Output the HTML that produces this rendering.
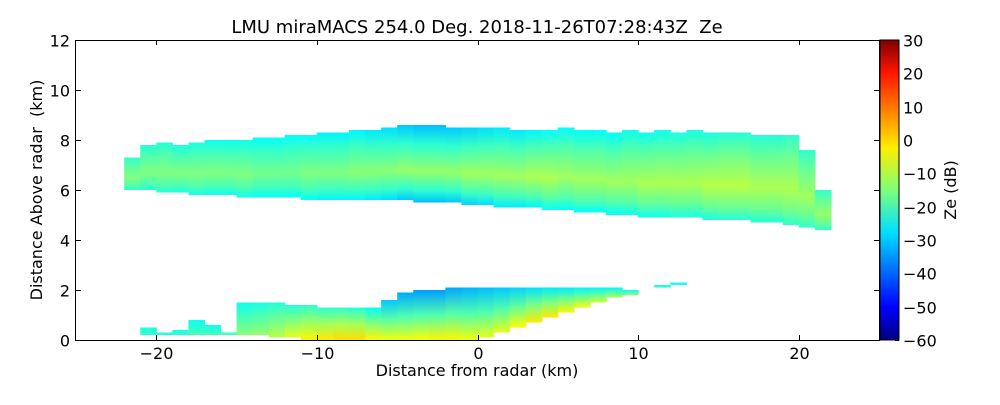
<!DOCTYPE html>
<html><head><meta charset="utf-8"><style>
body{margin:0;background:#fff;width:1000px;height:400px;overflow:hidden;font-family:"Liberation Sans","DejaVu Sans",sans-serif}
svg text{font-family:"DejaVu Sans","Liberation Sans",sans-serif;white-space:pre}
</style></head><body>
<svg id="chart" width="1000" height="400" viewBox="0 0 1000 400" xmlns="http://www.w3.org/2000/svg">
<defs>
<linearGradient id="cbgrad" x1="0" y1="1" x2="0" y2="0">
<stop offset="0" stop-color="#000080"/><stop offset="0.11" stop-color="#0000ff"/><stop offset="0.36" stop-color="#00e0ff"/><stop offset="0.5" stop-color="#7dff7a"/><stop offset="0.64" stop-color="#ffee00"/><stop offset="0.89" stop-color="#ff1500"/><stop offset="1" stop-color="#800000"/>
</linearGradient>
<clipPath id="plotclip"><rect x="76" y="40" width="803" height="300"/></clipPath>
</defs>
<text x="477" y="33" font-size="18" text-anchor="middle">LMU miraMACS 254.0 Deg. 2018-11-26T07:28:43Z  Ze</text>
<g id="marks" clip-path="url(#plotclip)"></g>
<rect x="75.5" y="40.5" width="804" height="300" fill="none" stroke="#000" stroke-width="1"/>
<g id="axes"></g>
<rect x="880" y="40" width="19" height="300" fill="url(#cbgrad)" stroke="#000" stroke-width="1"/>
<text x="477" y="376" font-size="16" text-anchor="middle">Distance from radar (km)</text>
<text transform="translate(42,190) rotate(-90)" font-size="16" text-anchor="middle">Distance Above radar  (km)</text>
<text transform="translate(956,190) rotate(-90)" font-size="16" text-anchor="middle">Ze (dB)</text>
</svg>
<script>
const xTicks=[-20,-10,0,10,20];
const yTicks=[0,2,4,6,8,10,12];
const cbTicks=[-60,-50,-40,-30,-20,-10,0,10,20,30];
// upper cloud layer columns (km)
const upX=[-21.5,-20.5,-19.5,-18.5,-17.5,-16.5,-15.5,-14.5,-13.5,-12.5,-11.5,-10.5,-9.5,-8.5,-7.5,-6.5,-5.5,-4.5,-3.5,-2.5,-1.5,-0.5,0.5,1.5,2.5,3.5,4.5,5.5,6.5,7.5,8.5,9.5,10.5,11.5,12.5,13.5,14.5,15.5,16.5,17.5,18.5,19.5,20.5,21.5];
const upTop=[7.3,7.8,7.9,7.8,7.9,8.0,8.0,8.0,8.1,8.1,8.2,8.2,8.3,8.3,8.4,8.4,8.5,8.6,8.6,8.6,8.5,8.5,8.5,8.5,8.4,8.4,8.4,8.5,8.4,8.4,8.3,8.4,8.3,8.4,8.3,8.4,8.3,8.3,8.3,8.2,8.2,8.2,7.6,6.0];
const upBot=[6.0,6.0,5.9,5.9,5.8,5.8,5.8,5.7,5.7,5.7,5.7,5.6,5.6,5.6,5.6,5.6,5.6,5.6,5.5,5.5,5.5,5.4,5.4,5.3,5.3,5.3,5.2,5.2,5.1,5.1,5.0,5.0,4.9,4.9,4.9,4.9,4.8,4.8,4.8,4.7,4.7,4.6,4.5,4.4];
const upCore=[-15,-15,-15,-15,-15,-15,-15,-15,-16,-16,-16,-15,-15,-15,-14,-14,-14,-13,-13,-13,-13,-12,-12,-12,-12,-11,-11,-12,-12,-12,-12,-12,-11,-11,-11,-11,-10,-10,-10,-11,-11,-11,-12,-13];
const upEdge=[-22,-23,-23,-24,-24,-25,-25,-25,-26,-26,-26,-26,-27,-27,-27,-28,-29,-31,-32,-32,-31,-30,-29,-28,-28,-27,-26,-26,-26,-26,-26,-25,-25,-25,-24,-24,-24,-23,-23,-23,-23,-22,-22,-22];
// lower layer columns
const loX=[-20.5,-19.5,-18.5,-17.5,-16.5,-15.5,-14.5,-13.5,-12.5,-11.5,-10.5,-9.5,-8.5,-7.5,-6.5,-5.5,-4.5,-3.5,-2.5,-1.5,-0.5,0.5,1.5,2.5,3.5,4.5,5.5,6.5,7.5,8.5,9.5,10.5,11.5,12.5];
const loTop=[0.5,0.3,0.4,0.8,0.6,0.3,1.5,1.5,1.5,1.4,1.4,1.3,1.3,1.3,1.3,1.6,1.9,2.0,2.0,2.1,2.1,2.1,2.1,2.1,2.1,2.1,2.1,2.1,2.1,2.1,2.0,2.0,2.2,2.3];
const loBot=[0.2,0.2,0.2,0.2,0.2,0.2,0.2,0.2,0.1,0.1,0.0,0.0,0.0,0.0,0.0,0.0,0.0,0.0,0.0,0.0,0.0,0.1,0.3,0.5,0.7,0.9,1.1,1.3,1.5,1.7,1.8,2.0,2.1,2.2];
const loBase=[-22,-22,-22,-20,-20,-18,-14,-13,-10,-6,-3,-2,-1,-1,-3,-5,-5,-4,-3,-3,-5,-6,-6,-4,-2,-2,-3,-5,-8,-11,-14,-18,-22,-24];
const loTopVal=[-24,-24,-24,-25,-25,-24,-25,-24,-23,-23,-22,-22,-22,-23,-26,-31,-34,-35,-35,-34,-33,-32,-31,-30,-29,-28,-28,-27,-27,-27,-26,-26,-25,-24];

const X0=76,X1=879,Y0=340,Y1=40;
const sx=v=>X0+(v+25)/50*(X1-X0);
const sy=v=>Y0-(v/12)*(Y0-Y1);
const cbY=v=>340-(v+60)/90*300;
const NS='http://www.w3.org/2000/svg';
function jet(v){let t=(v+60)/90;t=Math.max(0,Math.min(1,t));
 const c=x=>Math.round(255*Math.max(0,Math.min(1,1.5-Math.abs(4*t-x))));
 return `rgb(${c(3)},${c(2)},${c(1)})`;}
const svg=document.getElementById('chart');
const defs=svg.querySelector('defs');
const marks=document.getElementById('marks');
const axes=document.getElementById('axes');
let gid=0;
function column(cx,top,bot,stops,name){
 const id='g'+(gid++);
 const lg=document.createElementNS(NS,'linearGradient');
 lg.setAttribute('id',id);lg.setAttribute('x1','0');lg.setAttribute('y1','0');lg.setAttribute('x2','0');lg.setAttribute('y2','1');
 stops.forEach(s=>{const st=document.createElementNS(NS,'stop');st.setAttribute('offset',s[0]);st.setAttribute('stop-color',jet(s[1]));lg.appendChild(st);});
 defs.appendChild(lg);
 const r=document.createElementNS(NS,'rect');
 
 
 const xa=sx(cx-0.5),xb=sx(cx+0.5);
 r.setAttribute('x',xa);r.setAttribute('width',xb-xa+0.6);
 r.setAttribute('y',sy(top));r.setAttribute('height',Math.max(0,sy(bot)-sy(top)));
 r.setAttribute('fill','url(#'+id+')');
 marks.appendChild(r);
}
upX.forEach((x,i)=>column(x,upTop[i],upBot[i],[[0,upEdge[i]],[0.25,(upEdge[i]+upCore[i])/2],[0.6,upCore[i]],[0.85,(upEdge[i]+upCore[i])/2],[1,upEdge[i]]],'upper-cloud-column'));
loX.forEach((x,i)=>column(x,loTop[i],loBot[i],[[0,loTopVal[i]],[0.5,(loTopVal[i]+loBase[i])/2],[1,loBase[i]]],'lower-cloud-column'));
function line(x1,y1,x2,y2,name){const l=document.createElementNS(NS,'line');
 
 
 l.setAttribute('x1',x1);l.setAttribute('y1',y1);l.setAttribute('x2',x2);l.setAttribute('y2',y2);l.setAttribute('stroke','#000');axes.appendChild(l);}
function text(x,y,s,anchor,name){const t=document.createElementNS(NS,'text');
 
 
 t.setAttribute('x',x);t.setAttribute('y',y);t.setAttribute('font-size','16');t.setAttribute('text-anchor',anchor);t.textContent=s;axes.appendChild(t);}
const fmt=v=>v<0?'\u2212'+(-v):String(v);
xTicks.forEach(v=>{const x=Math.round(sx(v))+0.5;line(x,340,x,335,'x-tick');line(x,40,x,45,'x-tick');text(x,359,fmt(v),'middle','x-tick-label');});
yTicks.forEach(v=>{const y=Math.round(sy(v))+0.5;line(76,y,81,y,'y-tick');line(879,y,874,y,'y-tick');text(70,y+6,fmt(v),'end','y-tick-label');});
cbTicks.forEach(v=>{const y=Math.round(cbY(v))+0.5;line(895,y,899,y,'colorbar-tick');text(903,y+6,fmt(v),'start','colorbar-tick-label');});
</script>
</body></html>
